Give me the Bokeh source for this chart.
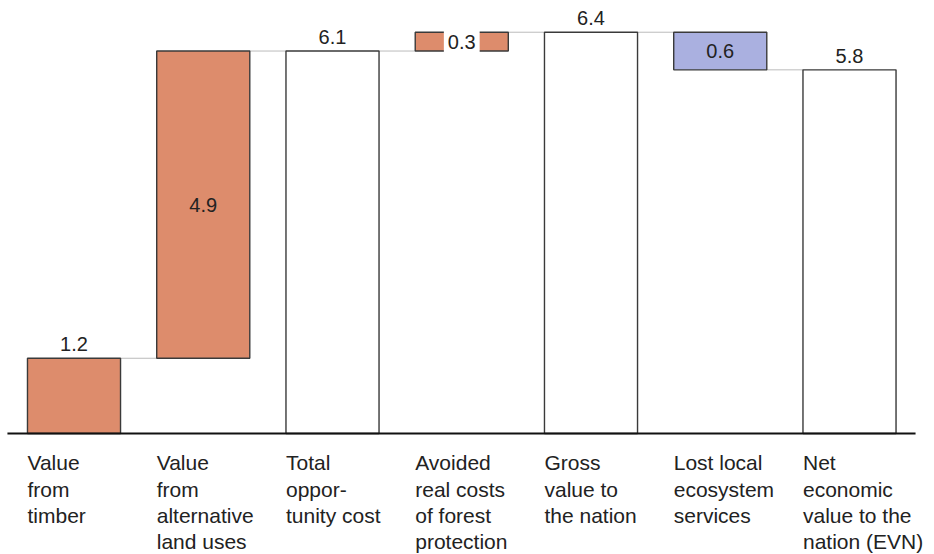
from bokeh.plotting import figure
from bokeh.models import ColumnDataSource, Range1d, Label
from bokeh.core.properties import value
from bokeh.embed import file_html
from bokeh.resources import INLINE

# ---- data ----
categories = [
    "Value\nfrom\ntimber",
    "Value\nfrom\nalternative\nland uses",
    "Total\noppor-\ntunity cost",
    "Avoided\nreal costs\nof forest\nprotection",
    "Gross\nvalue to\nthe nation",
    "Lost local\necosystem\nservices",
    "Net\neconomic\nvalue to the\nnation (EVN)",
]
values = [1.2, 4.9, 6.1, 0.3, 6.4, -0.6, 5.8]
kinds = ["delta", "delta", "total", "delta", "total", "delta", "total"]
value_labels = ["1.2", "4.9", "6.1", "0.3", "6.4", "0.6", "5.8"]
label_pos = ["above", "inside", "above", "boxed", "above", "inside", "above"]

ORANGE = "#DD8C6C"
BLUE = "#AAB0E0"
FONT = "Liberation Sans"
TXT = "#222222"

# ---- waterfall geometry from data ----
n = len(values)
xs = list(range(n))
bottoms, tops, fills, ends = [], [], [], []
running = 0.0
for v, k in zip(values, kinds):
    if k == "total":
        b, t = 0.0, v
        running = v
        fills.append("white")
    else:
        start = running
        running = running + v
        b, t = min(start, running), max(start, running)
        fills.append(ORANGE if v > 0 else BLUE)
    bottoms.append(b)
    tops.append(t)
    ends.append(running)

W, H = 934, 554
BW = 0.72

p = figure(width=W, height=H, output_backend="svg", toolbar_location=None,
           x_range=Range1d(-0.5687, 6.6576), y_range=Range1d(-1.930, 6.906),
           min_border=0, outline_line_color=None)
p.min_border_left = p.min_border_right = p.min_border_top = p.min_border_bottom = 0
p.axis.visible = False
p.grid.visible = False
p.background_fill_color = "white"
p.border_fill_color = "white"

# connectors
cx0 = [x + BW / 2 for x in xs[:-1]]
cx1 = [x + 1 - BW / 2 for x in xs[:-1]]
cy = ends[:-1]
p.segment(x0=cx0, y0=cy, x1=cx1, y1=cy, line_color="#BBBBBB", line_width=1)

# bars
src = ColumnDataSource(dict(x=xs, bottom=bottoms, top=tops, fill=fills))
p.vbar(x="x", width=BW, bottom="bottom", top="top", fill_color="fill",
       line_color="#3A3A3A", line_width=1.4, source=src)

# baseline axis
p.segment(x0=[-0.515], y0=[0], x1=[n - 0.489], y1=[0], line_color="#111111", line_width=2)

# value labels
ax, ay, at = [], [], []
ix, iy, it = [], [], []
for i in range(n):
    if label_pos[i] == "above":
        ax.append(xs[i]); ay.append(tops[i]); at.append(value_labels[i])
    elif label_pos[i] == "inside":
        ix.append(xs[i]); iy.append((tops[i] + bottoms[i]) / 2); it.append(value_labels[i])
    else:
        p.add_layout(Label(x=xs[i], y=(tops[i] + bottoms[i]) / 2, text=value_labels[i],
                           text_align="center", text_baseline="middle",
                           text_font=FONT, text_font_size="20px", text_color=TXT,
                           background_fill_color="white", padding=4))
p.text(x=ax, y=ay, text=at, text_align="center", text_baseline="bottom", y_offset=-7,
       text_font=value(FONT), text_font_size="20px", text_color=TXT)
p.text(x=ix, y=iy, text=it, text_align="center", text_baseline="middle",
       text_font=value(FONT), text_font_size="20px", text_color=TXT)

# category labels
lx = [x - BW / 2 for x in xs]
p.text(x=lx, y=[0] * n, text=categories, text_align="left", text_baseline="top",
       y_offset=18, text_font=value(FONT), text_font_size="21px", text_color=TXT,
       text_line_height=1.14)

open("out.html", "w").write(file_html(p, INLINE))
